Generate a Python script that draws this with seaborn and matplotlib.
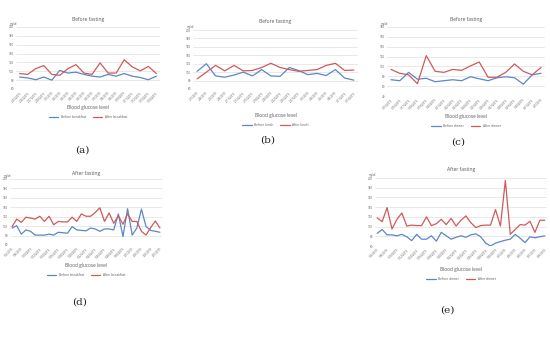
import matplotlib
matplotlib.use("Agg")
import matplotlib.pyplot as plt
import seaborn as sns
import numpy as np
from matplotlib.lines import Line2D

sns.set_theme(style="white")
plt.rcParams['font.family'] = ['Open Sans', 'DejaVu Sans']

# ---------------- data ----------------
dates_a = ["2/25/2019", "2/26/2019", "2/27/2019", "2/28/2019", "3/1/2019", "3/2/2019",
           "3/3/2019", "3/4/2019", "3/5/2019", "3/6/2019", "3/7/2019", "3/8/2019",
           "3/9/2019", "3/10/2019", "3/11/2019", "3/12/2019", "3/13/2019", "3/14/2019"]
before_breakfast_a = [87, 85, 81, 87, 80, 102, 96, 98, 93, 89, 87, 93, 89, 95, 89, 86, 81, 89]
after_breakfast_a = [95, 93, 106, 113, 93, 91, 106, 115, 96, 93, 119, 96, 96, 126, 110, 101, 111, 95]

dates_b = ["2/1/2019", "2/4/2019", "2/6/2019", "2/8/2019", "2/11/2019", "2/13/2019",
           "2/15/2019", "2/18/2019", "2/20/2019", "2/22/2019", "2/25/2019", "2/27/2019",
           "3/1/2019", "3/4/2019", "3/6/2019", "3/8/2019", "3/11/2019", "3/13/2019"]
before_lunch_b = [102, 120, 91, 88, 93, 100, 91, 106, 91, 90, 111, 104, 94, 97, 92, 106, 86, 81]
after_lunch_b = [84, 100, 116, 103, 116, 103, 104, 111, 121, 111, 106, 102, 104, 106, 116, 121, 104, 105]

dates_c = ["3/15/2019", "3/16/2019", "3/17/2019", "3/18/2019", "3/19/2019", "3/20/2019",
           "3/21/2019", "3/22/2019", "3/23/2019", "3/24/2019", "3/25/2019", "3/26/2019",
           "3/27/2019", "3/28/2019", "3/29/2019", "3/30/2019", "3/31/2019", "4/1/2019"]
before_dinner_c = [73, 71, 88, 74, 76, 69, 71, 73, 71, 79, 75, 71, 77, 79, 77, 64, 83, 86]
after_dinner_c = [94, 86, 83, 65, 122, 90, 88, 94, 92, 101, 109, 78, 78, 88, 105, 90, 83, 98]

dates_d = ["5/6/2019", "5/8/2019", "5/10/2019", "5/12/2019", "5/14/2019", "5/16/2019",
           "5/18/2019", "5/20/2019", "5/22/2019", "5/24/2019", "5/26/2019", "5/28/2019",
           "5/30/2019", "6/1/2019", "6/3/2019", "6/5/2019", "6/7/2019"]
before_breakfast_d = [96, 101, 83, 92, 89, 81, 81, 81, 83, 81, 87, 86, 85, 99, 92, 91, 90,
                      96, 94, 89, 94, 94, 92, 126, 78, 137, 81, 96, 136, 99, 91, 89, 87]
after_breakfast_d = [99, 115, 108, 119, 117, 115, 121, 110, 121, 103, 110, 109, 109, 119, 110, 126, 121,
                     121, 129, 139, 110, 128, 106, 122, 104, 126, 110, 110, 89, 81, 97, 111, 96]

dates_e = ["5/6/2019", "5/8/2019", "5/10/2019", "5/12/2019", "5/14/2019", "5/16/2019",
           "5/18/2019", "5/20/2019", "5/22/2019", "5/24/2019", "5/26/2019", "5/28/2019",
           "5/30/2019", "6/1/2019", "6/3/2019", "6/5/2019", "6/7/2019", "6/9/2019"]
before_dinner_e = [86, 94, 83, 83, 81, 84, 79, 71, 84, 74, 74, 81, 70, 88, 81, 74, 78, 81,
                   78, 83, 85, 79, 66, 60, 66, 69, 72, 74, 84, 76, 67, 79, 77, 79, 81]
after_dinner_e = [118, 110, 139, 95, 115, 128, 101, 103, 102, 102, 120, 102, 106, 115, 104, 117, 101, 113,
                  122, 108, 98, 102, 103, 103, 135, 101, 195, 84, 94, 104, 103, 111, 88, 113, 113]

BLUE = "#5B87C5"
RED = "#CF5A5A"
GRID = "#D9D9D9"
TXT = "#595959"

W, H = 550, 341
fig = plt.figure(figsize=(W / 100, H / 100), dpi=100)
fig.patch.set_facecolor("white")


def px_axes(left, top, right, bottom):
    return fig.add_axes([left / W, 1 - bottom / H, (right - left) / W, (bottom - top) / H])


def panel(box, labels, s1, s2, names, ymin, ymax, title, title_y, xlabel_y, legend_y,
          letter, letter_xy, label_step=1):
    left, top, right, bottom = box
    ax = px_axes(left, top, right, bottom)
    x = np.arange(len(s1))
    sns.lineplot(x=x, y=s1, ax=ax, color=BLUE, linewidth=0.9)
    sns.lineplot(x=x, y=s2, ax=ax, color=RED, linewidth=0.9)
    n = len(s1)
    ax.set_xlim(-0.45, n - 1 + 0.45)
    ax.set_ylim(ymin, ymax)
    ax.set_yticks(np.arange(ymin, ymax + 1, 20))
    ax.set_yticklabels([str(v) for v in np.arange(ymin, ymax + 1, 20)], fontsize=2.2, color=TXT)
    ax.set_xticks(x[::label_step])
    ax.set_xticklabels(labels, fontsize=2.0, color=TXT, rotation=45, ha="right",
                       rotation_mode="anchor")
    ax.tick_params(axis="both", length=0, pad=1.5)
    ax.grid(axis="y", color=GRID, linewidth=0.4)
    ax.grid(axis="x", visible=False)
    for sp in ax.spines.values():
        sp.set_visible(False)
    ax.set_facecolor("white")
    cx = (left + right) / 2 / W
    fig.text(cx, 1 - title_y / H, title, ha="center", va="center", fontsize=3.6, color=TXT)
    fig.text(cx, 1 - xlabel_y / H, "Blood glucose level", ha="center", va="center",
             fontsize=3.4, color=TXT)
    fig.text((left - 6) / W, 1 - (top - 3) / H, "mg/dl", ha="left", va="center",
             fontsize=2.0, color=TXT)
    handles = [Line2D([], [], color=BLUE, lw=0.9), Line2D([], [], color=RED, lw=0.9)]
    fig.legend(handles, names, loc="center", bbox_to_anchor=(cx, 1 - legend_y / H),
               ncol=2, frameon=False, fontsize=2.3, handlelength=3, columnspacing=2,
               labelcolor=TXT)
    fig.text(letter_xy[0] / W, 1 - letter_xy[1] / H, letter, ha="center", va="center",
             fontsize=7.5, family="DejaVu Serif", color="#222222")
    return ax


panel((16, 27, 160, 89), dates_a, before_breakfast_a, after_breakfast_a,
      ["Before breakfast", "After breakfast"], 60, 200, "Before fasting", 19, 108, 117,
      "(a)", (82, 150))
panel((193, 30, 358, 89), dates_b, before_lunch_b, after_lunch_b,
      ["Before lunch", "After lunch"], 60, 200, "Before fasting", 22, 116, 125,
      "(b)", (268, 140))
panel((387, 27, 545, 96), dates_c, before_dinner_c, after_dinner_c,
      ["Before dinner", "After dinner"], 40, 180, "Before fasting", 20, 117, 126,
      "(c)", (458, 142))
panel((10, 179, 162, 245), dates_d, before_breakfast_d, after_breakfast_d,
      ["Before breakfast", "After breakfast"], 60, 200, "After fasting", 173, 266, 275,
      "(d)", (80, 302), label_step=2)
panel((375, 178, 547, 246), dates_e, before_dinner_e, after_dinner_e,
      ["Before dinner", "After dinner"], 60, 200, "After fasting", 170, 269, 279,
      "(e)", (447, 310), label_step=2)

fig.savefig("out.png", dpi=100, facecolor="white")
